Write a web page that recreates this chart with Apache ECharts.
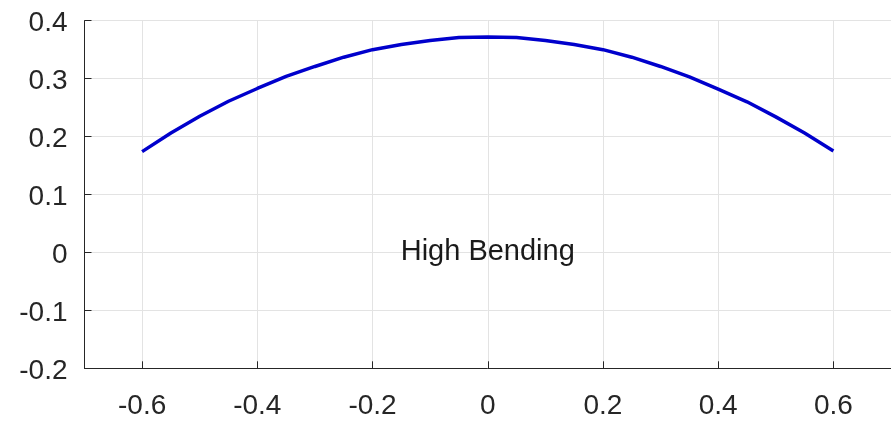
<!DOCTYPE html>
<html>
    <head>
        <meta charset="utf-8">
        <script src="https://cdn.jsdelivr.net/npm/echarts@6/dist/echarts.min.js"></script>
    </head>
    <body>
        <style>
            html, body, #main {
                width: 891px;
                height: 421px;
                margin: 0;
                background: #fff;
            }
        </style>
        <div id='main'></div>
        <script>
            var xValues = [-0.6, -0.55, -0.5, -0.45, -0.4, -0.35, -0.3, -0.25, -0.2, -0.15, -0.1, -0.05, 0,
                           0.05, 0.1, 0.15, 0.2, 0.25, 0.3, 0.35, 0.4, 0.45, 0.5, 0.55, 0.6];
            var yValues = [0.174, 0.206, 0.235, 0.261, 0.283, 0.304, 0.321, 0.337, 0.350, 0.359, 0.366, 0.371, 0.372,
                           0.371, 0.366, 0.359, 0.350, 0.337, 0.321, 0.303, 0.282, 0.260, 0.234, 0.206, 0.175];
            var labelText = 'High Bending';
            var labelPos = [0, 0];

            var data = [];
            for (var i = 0; i < xValues.length; i++) {
                data.push([xValues[i], yValues[i]]);
            }

            var chart = echarts.init(document.getElementById('main'));
            var font = 'Liberation Sans';
            var textColor = '#262626';
            var option = {
                animation: false,
                grid: { left: 84.5, right: -3, top: 20.7, bottom: 52.7 },
                xAxis: {
                    type: 'value',
                    min: -0.7,
                    max: 0.7,
                    splitNumber: 7,
                    axisLine: { onZero: false, lineStyle: { color: textColor, width: 1 } },
                    axisTick: { inside: true, length: 7, lineStyle: { color: textColor } },
                    axisLabel: {
                        showMinLabel: false,
                        showMaxLabel: false,
                        margin: 24,
                        fontSize: 28,
                        fontFamily: font,
                        color: textColor
                    },
                    splitLine: { lineStyle: { color: '#e3e3e3' } }
                },
                yAxis: {
                    type: 'value',
                    min: -0.2,
                    max: 0.4,
                    interval: 0.1,
                    axisLine: { show: true, onZero: false, lineStyle: { color: textColor, width: 1 } },
                    axisTick: { show: true, inside: true, length: 7, lineStyle: { color: textColor } },
                    axisLabel: {
                        margin: 17,
                        formatter: function (v) { return '{a|' + v + '}'; },
                        rich: {
                            a: {
                                padding: [6, 0, 0, 0],
                                fontSize: 28,
                                fontFamily: font,
                                color: textColor
                            }
                        },
                        fontSize: 28,
                        fontFamily: font,
                        color: textColor
                    },
                    splitLine: { lineStyle: { color: '#e3e3e3' } }
                },
                series: [{
                    type: 'line',
                    data: data,
                    smooth: false,
                    showSymbol: false,
                    lineStyle: { color: '#0000cc', width: 3.5 },
                    markPoint: {
                        symbol: 'circle',
                        symbolSize: 1,
                        itemStyle: { color: 'rgba(0,0,0,0)' },
                        label: {
                            show: true,
                            position: 'inside',
                            formatter: labelText,
                            fontSize: 29,
                            fontFamily: font,
                            color: '#1a1a1a'
                        },
                        data: [{ coord: labelPos }]
                    }
                }]
            };
            chart.setOption(option);
        </script>
    </body>
</html>
